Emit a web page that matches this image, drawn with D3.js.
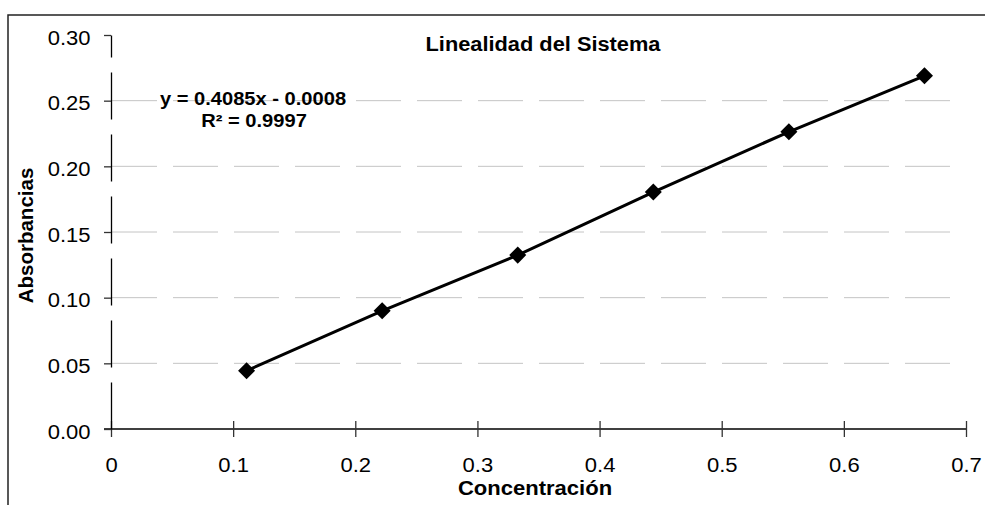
<!DOCTYPE html>
<html>
<head>
<meta charset="utf-8">
<script src="https://cdn.jsdelivr.net/npm/d3@7"></script>
<style>
  body { margin: 0; background: #fff; }
  svg { display: block; font-family: "Liberation Sans", Arial, sans-serif; }
</style>
</head>
<body>
<svg id="chart" width="985" height="505"></svg>
<script>
// data
const concentracion = [0.111, 0.222, 0.333, 0.444, 0.555, 0.666];
const absorbancias = [0.0444, 0.0900, 0.1324, 0.1804, 0.2263, 0.2689];
const xTicks = [0, 0.1, 0.2, 0.3, 0.4, 0.5, 0.6, 0.7];
const yTicks = [0, 0.05, 0.10, 0.15, 0.20, 0.25, 0.30];
const titulo = "Linealidad del Sistema";
const ecuacion = "y = 0.4085x - 0.0008";
const r2 = "R\u00B2 = 0.9997";
const xLabel = "Concentración";
const yLabel = "Absorbancias";

const margin = { top: 35, right: 19, bottom: 76, left: 111 };
const width = 985 - margin.left - margin.right;
const height = 505 - margin.top - margin.bottom;
const sx = 1.13; // the original text is stretched sideways

const svg = d3.select("#chart");

// outer chart border (runs off the right and bottom edges)
svg.append("rect")
    .attr("x", 8).attr("y", 15)
    .attr("width", 1000).attr("height", 600)
    .attr("fill", "none")
    .attr("stroke", "#222")
    .attr("stroke-width", 1.5);

const g = svg.append("g").attr("transform", `translate(${margin.left},${margin.top})`);

const x = d3.scaleLinear().domain([0, 0.7]).range([0, width]);
const y = d3.scaleLinear().domain([0, 0.3]).range([height, 0]);

// dashed gridlines
g.append("g")
    .selectAll("line")
    .data(yTicks.filter(d => d > 0 && d < 0.3))
    .join("line")
    .attr("x1", 1).attr("x2", 846)
    .attr("y1", d => y(d)).attr("y2", d => y(d))
    .attr("stroke", "#c4c4c4")
    .attr("stroke-width", 1)
    .attr("stroke-dasharray", "45,16");

// x axis
const xAxis = g.append("g")
    .attr("transform", `translate(0,${height})`)
    .call(d3.axisBottom(x).tickValues(xTicks).tickSize(8).tickSizeOuter(0)
        .tickFormat(d => d === 0 ? "0" : d3.format(".1f")(d)));
xAxis.select(".domain").attr("stroke", "#000").attr("stroke-width", 1.3)
    .attr("d", `M-7,0H${width}`);
xAxis.selectAll(".tick line").attr("y1", -8).attr("stroke", "#333").attr("stroke-width", 1.3);
xAxis.selectAll(".tick text")
    .attr("y", 43).attr("dy", 0)
    .attr("font-size", 19.5)
    .attr("font-family", "Liberation Sans, Arial, sans-serif")
    .attr("fill", "#000")
    .attr("transform", `scale(${sx},1)`);

// y axis
const yAxis = g.append("g")
    .call(d3.axisLeft(y).tickValues(yTicks).tickSize(7).tickSizeOuter(0)
        .tickFormat(d3.format(".2f")));
yAxis.select(".domain").attr("stroke", "#000").attr("stroke-width", 1.3)
    .attr("stroke-dasharray", "47,15");
yAxis.selectAll(".tick line").attr("stroke", "#333").attr("stroke-width", 1.3);
yAxis.selectAll(".tick text")
    .attr("x", -20.5 / sx).attr("y", 9).attr("dy", 0)
    .attr("font-size", 19.5)
    .attr("font-family", "Liberation Sans, Arial, sans-serif")
    .attr("fill", "#000")
    .attr("transform", `scale(${sx},1)`);

// series line and diamond markers
const pts = concentracion.map((c, i) => [c, absorbancias[i]]);
g.append("path")
    .datum(pts)
    .attr("fill", "none")
    .attr("stroke", "#000")
    .attr("stroke-width", 3)
    .attr("d", d3.line().x(d => x(d[0])).y(d => y(d[1])));

g.selectAll(".marker")
    .data(pts)
    .join("path")
    .attr("class", "marker")
    .attr("d", d3.symbol(d3.symbolSquare, 145))
    .attr("transform", d => `translate(${x(d[0])},${y(d[1])}) rotate(45)`)
    .attr("fill", "#000");

// texts
function stretched(cx, cy, str, size, weight, rot) {
    const t = svg.append("g")
        .attr("transform", rot ? `translate(${cx},${cy}) rotate(-90)` : `translate(${cx},${cy}) scale(${sx},1)`)
        .append("text")
        .attr("text-anchor", "middle")
        .attr("font-size", size)
        .attr("font-weight", weight)
        .attr("fill", "#000")
        .text(str);
    return t;
}

stretched(543, 50.5, titulo, 19.3, "bold");
stretched(253, 105, ecuacion, 17.8, "bold");
stretched(254, 127, r2, 17.8, "bold");
stretched(535, 495, xLabel, 19.5, "bold");
stretched(33, 235.5, yLabel, 20.5, "bold", true);
</script>
</body>
</html>
